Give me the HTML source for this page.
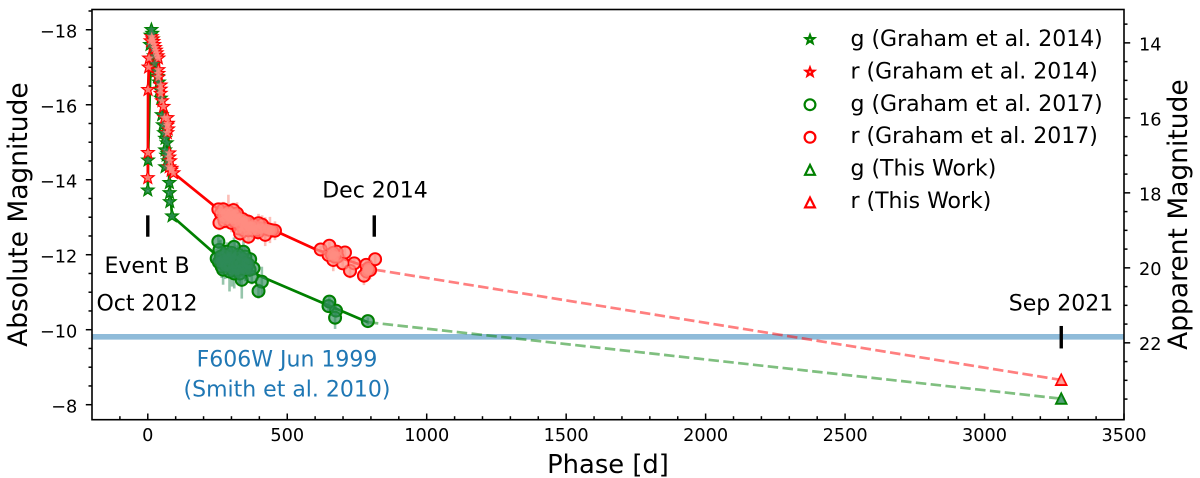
<!DOCTYPE html>
<html lang="en">
<head>
<meta charset="utf-8">
<title>Light curve</title>
<style>
html,body{margin:0;padding:0;background:#fff;}
svg{display:block;}
text{font-family:"DejaVu Sans","Liberation Sans",sans-serif;fill:#000;}
</style>
</head>
<body>
<svg id="chart" xmlns="http://www.w3.org/2000/svg" width="1200" height="478" viewBox="0 0 1200 478">
  <rect x="0" y="0" width="1200" height="478" fill="#fff"/>
  <g id="band"></g>
  <g id="errs"></g>
  <g id="lines"></g>
  <g id="edges"></g>
  <g id="fills"></g>
  <g id="events"></g>
  <g id="axes"></g>
  <g id="legend"></g>
  <text x="147" y="273" font-size="22" text-anchor="middle">Event B</text>
  <text x="147" y="310.5" font-size="22" text-anchor="middle">Oct 2012</text>
  <text x="375" y="197.5" font-size="22" text-anchor="middle">Dec 2014</text>
  <text x="1061" y="310.5" font-size="22" text-anchor="middle">Sep 2021</text>
  <text x="287" y="366.5" font-size="22" text-anchor="middle" style="fill:#1f77b4">F606W Jun 1999</text>
  <text x="287" y="396.5" font-size="22" text-anchor="middle" style="fill:#1f77b4">(Smith et al. 2010)</text>
  <text x="608" y="473" font-size="25.8" text-anchor="middle">Phase [d]</text>
  <text transform="translate(27,214.6) rotate(-90)" font-size="26.5" text-anchor="middle">Absolute Magnitude</text>
  <text transform="translate(1187,214.6) rotate(-90)" font-size="26.5" text-anchor="middle">Apparent Magnitude</text>
</svg>
<script>
const xTickValues = [0, 500, 1000, 1500, 2000, 2500, 3000, 3500];
const yTickValues = [-18, -16, -14, -12, -10, -8];
const appTickValues = [14, 16, 18, 20, 22];

const gStarPhase = [0, 1, 8, 10, 13, 16, 18, 20, 22, 25, 30, 35, 40, 42, 46.6, 50, 54, 58, 62, 68, 62, 66, 70, 62, 72, 77.5, 78, 79, 87];
const gStarMag = [-13.72, -14.52, -17.6, -17.85, -18.0, -17.9, -17.75, -17.5, -17.3, -17.1, -16.9, -16.75, -16.6, -16.4, -16.17, -15.73, -15.46, -15.25, -15.1, -14.98, -14.79, -14.65, -14.7, -14.34, -14.5, -13.92, -13.65, -13.41, -13.03];

const rStarPhase = [0, 0.5, 1, 3, 4.7, 10, 14, 17, 20, 23, 26, 29, 32, 35, 38, 38, 38, 38, 46, 46, 46, 51, 56, 60, 70, 72, 73, 70, 70, 77, 77, 80, 77, 84, 85, 92];
const rStarMag = [-14.05, -14.72, -16.4, -17.0, -17.24, -17.7, -17.81, -17.75, -17.68, -17.6, -17.52, -17.45, -17.38, -17.3, -17.24, -16.93, -16.83, -16.73, -16.52, -16.41, -16.3, -16.1, -15.95, -15.65, -15.65, -15.5, -15.35, -15.45, -15.25, -14.71, -14.6, -14.5, -14.34, -14.25, -14.3, -14.18];

const gCirclePhase = [253, 257, 247, 309, 265, 293, 343, 367, 349, 337, 373, 379, 409, 397, 271, 295, 319, 283, 331, 307, 319, 355, 651, 648, 675, 671.5, 789, 262, 275, 288, 300, 312, 325, 338, 350, 262, 278, 290, 302, 315, 328, 340, 352, 365, 270, 285, 300, 255, 345, 360, 310, 330];
const gCircleMag = [-12.35, -12.13, -11.9, -12.21, -11.68, -11.55, -12.08, -11.88, -11.59, -11.33, -11.41, -11.64, -11.28, -11.03, -11.86, -11.9, -11.95, -12.08, -11.77, -11.72, -11.59, -11.77, -10.75, -10.63, -10.51, -10.32, -10.23, -11.95, -12.0, -11.85, -11.95, -11.85, -12.0, -11.9, -11.95, -11.8, -11.7, -11.7, -11.6, -11.7, -11.6, -11.65, -11.6, -11.6, -11.6, -11.9, -12.05, -11.8, -11.8, -11.75, -11.5, -11.5];
const gCircleErr = [0.2, 0.25, 0.25, 0.25, 0.3, 0.53, 0.3, 0.2, 0.3, 0.5, 0.2, 0.2, 0.4, 0.2, 0.3, 0.3, 0.3, 0.25, 0.3, 0.3, 0.3, 0.25, 0.12, 0.12, 0.15, 0.3, 0.1, 0.45, 0.2, 0.4, 0.25, 0.5, 0.3, 0.35, 0.25, 0.3, 0.35, 0.2, 0.45, 0.3, 0.4, 0.25, 0.3, 0.2, 0.4, 0.25, 0.3, 0.2, 0.3, 0.2, 0.4, 0.3];

const rCirclePhase = [253, 271, 289, 307, 257, 271, 295, 313, 331, 331, 361, 361, 343, 313, 397, 373, 391, 421, 421, 438, 456, 620, 651, 648, 677, 707, 665, 699, 740, 725, 775, 783, 815, 797, 791, 262, 280, 298, 320, 285, 305, 320, 340, 350, 330, 350, 365, 380, 345, 360, 375, 405, 410, 430, 445, 275, 300, 325, 395, 665, 670, 680, 660, 790, 785];
const rCircleMag = [-13.21, -13.21, -13.15, -13.19, -12.85, -13.01, -13.01, -13.06, -12.97, -12.57, -12.48, -12.88, -12.84, -12.88, -12.84, -12.75, -12.66, -12.53, -12.7, -12.66, -12.64, -12.14, -12.24, -11.99, -12.08, -12.06, -11.86, -11.77, -11.77, -11.57, -11.44, -11.73, -11.88, -11.59, -11.64, -13.1, -13.1, -13.1, -13.1, -12.95, -12.95, -12.95, -12.95, -12.9, -12.8, -12.75, -12.75, -12.8, -12.65, -12.65, -12.65, -12.7, -12.8, -12.68, -12.65, -12.9, -12.85, -12.7, -12.6, -12.05, -11.95, -11.95, -12.0, -11.6, -11.55];
const rCircleErr = [0.1, 0.2, 0.45, 0.2, 0.2, 0.2, 0.2, 0.2, 0.2, 0.2, 0.2, 0.2, 0.2, 0.2, 0.25, 0.2, 0.2, 0.3, 0.3, 0.35, 0.25, 0.1, 0.1, 0.15, 0.15, 0.15, 0.3, 0.15, 0.15, 0.2, 0.25, 0.15, 0.12, 0.25, 0.2, 0.3, 0.25, 0.2, 0.3, 0.25, 0.2, 0.15, 0.2, 0.2, 0.15, 0.2, 0.15, 0.2, 0.15, 0.15, 0.2, 0.2, 0.25, 0.2, 0.2, 0.2, 0.25, 0.15, 0.2, 0.12, 0.15, 0.12, 0.15, 0.2, 0.2];

const gTrianglePhase = [3275];
const gTriangleMag = [-8.16];
const rTrianglePhase = [3275];
const rTriangleMag = [-8.66];

const gLinePhase = [0, 1, 13, 46, 68, 78, 87, 234, 409, 789];
const gLineMag = [-13.72, -14.52, -18.0, -16.17, -14.98, -13.92, -13.03, -12.07, -11.41, -10.2];
const rLinePhase = [0, 0.5, 1, 4.7, 14, 38, 46, 56, 70, 77, 92, 253, 456, 600, 815];
const rLineMag = [-14.05, -14.72, -16.4, -17.24, -17.81, -17.24, -16.52, -15.95, -15.65, -14.71, -14.18, -13.21, -12.64, -12.15, -11.6];
const gDashPhase = [789, 3275];
const gDashMag = [-10.2, -8.16];
const rDashPhase = [815, 3275];
const rDashMag = [-11.6, -8.66];

const bandMag = [-9.81];
const epochPhase = [0, 812, 3275];
const epochTop = [-13.05, -13.05, -10.1];
const epochBottom = [-12.48, -12.48, -9.5];

const xMin = -200, xMax = 3500, yMin = -18.54, yMax = -7.6;
const plotLeft = 92, plotRight = 1124, plotTop = 9.5, plotBottom = 419.7;
const appOffset = 31.65;
const NS = 'http://www.w3.org/2000/svg';

function xScale(d) { return plotLeft + (d - xMin) / (xMax - xMin) * (plotRight - plotLeft); }
function yScale(m) { return plotTop + (m - yMin) / (yMax - yMin) * (plotBottom - plotTop); }
function make(tag, parent, attrs) {
  const el = document.createElementNS(NS, tag);
  for (const k in attrs) el.setAttribute(k, attrs[k]);
  parent.appendChild(el);
  return el;
}
function starPts(cx, cy, r) {
  const pts = [];
  for (let i = 0; i < 10; i++) {
    const rr = i % 2 ? r * 0.42 : r;
    const a = -Math.PI / 2 + i * Math.PI / 5;
    pts.push((cx + rr * Math.cos(a)).toFixed(2) + ',' + (cy + rr * Math.sin(a)).toFixed(2));
  }
  return pts.join(' ');
}
function triPts(cx, cy, r) {
  return [[cx, cy - r], [cx - r, cy + r], [cx + r, cy + r]].map(p => p[0].toFixed(2) + ',' + p[1].toFixed(2)).join(' ');
}
function marker(kind, parent, cx, cy, r, attrs) {
  if (kind === 'circle') return make('circle', parent, Object.assign({ cx: cx, cy: cy, r: r }, attrs));
  const pts = kind === 'star' ? starPts(cx, cy, r) : triPts(cx, cy, r);
  return make('polygon', parent, Object.assign({ points: pts }, attrs));
}

const layers = {};
['band', 'errs', 'lines', 'edges', 'fills', 'events', 'axes', 'legend'].forEach(id => { layers[id] = document.getElementById(id); });

const bandEl = make('line', layers.band, { x1: plotLeft, x2: plotRight, y1: yScale(bandMag[0]), y2: yScale(bandMag[0]), stroke: '#1f77b4', 'stroke-opacity': 0.5, 'stroke-width': 5.6 });



function drawLine(px, py, color, width, name, dash, opacity) {
  const pts = px.map((d, i) => xScale(d).toFixed(2) + ',' + yScale(py[i]).toFixed(2)).join(' ');
  const el = make('polyline', layers.lines, { points: pts, fill: 'none', stroke: color, 'stroke-width': width, 'stroke-linejoin': 'round' });
  if (dash) el.setAttribute('stroke-dasharray', dash);
  if (opacity) el.setAttribute('stroke-opacity', opacity);
  
  
}
drawLine(gLinePhase, gLineMag, '#008000', 2.7, 'g-band-line');
drawLine(gDashPhase, gDashMag, '#008000', 2.7, 'g-band-dashed-extrapolation', '10.5 4.4', 0.5);
drawLine(rLinePhase, rLineMag, '#ff0000', 2.7, 'r-band-line');
drawLine(rDashPhase, rDashMag, '#ff0000', 2.7, 'r-band-dashed-extrapolation', '10.5 4.4', 0.5);

function drawErrs(px, py, pe, color, name) {
  px.forEach((d, i) => {
    const el = make('line', layers.errs, { x1: xScale(d), x2: xScale(d), y1: yScale(py[i] - pe[i]), y2: yScale(py[i] + pe[i]), stroke: color, 'stroke-width': 2.6, 'stroke-opacity': 0.5 });
    
    
  });
}
drawErrs(gCirclePhase, gCircleMag, gCircleErr, '#2e8b57', 'g-error-bar');
drawErrs(rCirclePhase, rCircleMag, rCircleErr, '#fa8072', 'r-error-bar');

function drawSeries(kind, px, py, edge, fill, rEdge, rFill, op, name) {
  px.forEach((d, i) => {
    const e = marker(kind, layers.edges, xScale(d), yScale(py[i]), rEdge, { fill: 'none', stroke: edge, 'stroke-width': 2.2 });
    
    
  });
  px.forEach((d, i) => {
    const f = marker(kind, layers.fills, xScale(d), yScale(py[i]), rFill, { fill: fill, 'fill-opacity': op });
    
    
  });
}
drawSeries('star', gStarPhase, gStarMag, '#008000', '#2e8b57', 5.2, 5, 0.8, 'g-graham-2014-point');
drawSeries('circle', gCirclePhase, gCircleMag, '#008000', '#2e8b57', 5.9, 5.2, 0.65, 'g-graham-2017-point');
drawSeries('star', rStarPhase, rStarMag, '#ff0000', '#ff8c82', 5.2, 5, 0.85, 'r-graham-2014-point');
drawSeries('circle', rCirclePhase, rCircleMag, '#ff0000', '#ff8c82', 5.9, 5.2, 0.75, 'r-graham-2017-point');
drawSeries('triangle', gTrianglePhase, gTriangleMag, '#008000', '#2e8b57', 5, 4.2, 0.8, 'g-this-work-point');
drawSeries('triangle', rTrianglePhase, rTriangleMag, '#ff0000', '#ff8c82', 5, 4.2, 0.8, 'r-this-work-point');

epochPhase.forEach((d, i) => {
  const el = make('line', layers.events, { x1: xScale(d), x2: xScale(d), y1: yScale(epochTop[i]), y2: yScale(epochBottom[i]), stroke: '#000', 'stroke-width': 3.4 });
  
  
});

function tickLine(x1, y1, x2, y2, name) {
  const el = make('line', layers.axes, { x1: x1, y1: y1, x2: x2, y2: y2, stroke: '#000', 'stroke-width': 1.5 });
  
  
}
function tickText(x, y, s, anchor, name) {
  const el = make('text', layers.axes, { x: x, y: y, 'font-size': 17.7, 'text-anchor': anchor });
  el.textContent = s;
  
  
}
for (let d = -100; d < xMax; d += 100) {
  if (d % 500 !== 0) tickLine(xScale(d), plotBottom, xScale(d), plotBottom - 3.5, 'x-minor-tick');
}
xTickValues.forEach(d => {
  tickLine(xScale(d), plotBottom, xScale(d), plotBottom - 6.2, 'x-major-tick');
  tickText(xScale(d), 441, String(d), 'middle', 'x-tick-label');
});
for (let m = -18.5; m <= -8; m += 0.5) {
  if (m % 2 !== 0) tickLine(plotLeft, yScale(m), plotLeft - 3.5, yScale(m), 'y-minor-tick');
}
yTickValues.forEach(m => {
  tickLine(plotLeft, yScale(m), plotLeft - 6.2, yScale(m), 'y-major-tick');
  tickText(77.3, yScale(m) + 7.6, '\u2212' + Math.abs(m), 'end', 'y-tick-label');
});
for (let a = 13.5; a <= 23.5; a += 0.5) {
  if (a % 2 !== 0) tickLine(plotRight, yScale(a - appOffset), plotRight + 3.5, yScale(a - appOffset), 'right-y-minor-tick');
}
appTickValues.forEach(a => {
  tickLine(plotRight, yScale(a - appOffset), plotRight + 6.2, yScale(a - appOffset), 'right-y-major-tick');
  tickText(1139, yScale(a - appOffset) + 7.4, String(a), 'start', 'right-y-tick-label');
});
const frame = make('rect', layers.axes, { x: plotLeft, y: plotTop, width: plotRight - plotLeft, height: plotBottom - plotTop, fill: 'none', stroke: '#000', 'stroke-width': 1.6 });



const legendLabels = ['g (Graham et al. 2014)', 'r (Graham et al. 2014)', 'g (Graham et al. 2017)', 'r (Graham et al. 2017)', 'g (This Work)', 'r (This Work)'];
const legendKinds = ['star', 'star', 'circle', 'circle', 'triangle', 'triangle'];
const legendColors = ['#008000', '#ff0000', '#008000', '#ff0000', '#008000', '#ff0000'];
legendLabels.forEach((s, i) => {
  const r = legendKinds[i] === 'star' ? 4.4 : legendKinds[i] === 'circle' ? 5.4 : 4.9;
  const m = marker(legendKinds[i], layers.legend, 810, 39.5 + 32.6 * i, r, { fill: 'none', stroke: legendColors[i], 'stroke-width': 2.2 });
  
  
  const t = make('text', layers.legend, { x: 850.5, y: 46 + 32.4 * i, 'font-size': 22 });
  t.textContent = s;
  
  
});
</script>
</body>
</html>
